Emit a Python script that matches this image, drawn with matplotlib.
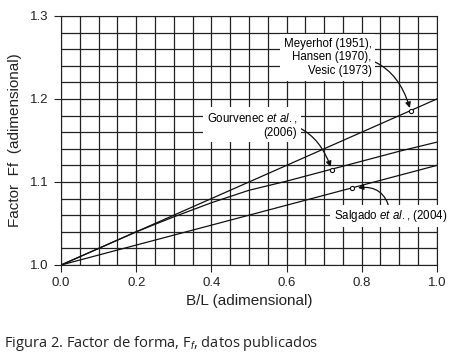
import numpy as np
import matplotlib
matplotlib.use("Agg")
import matplotlib.pyplot as plt

# datos
bl = [0.0, 0.1, 0.2, 0.3, 0.4, 0.5, 0.6, 0.7, 0.8, 0.9, 1.0]
meyerhof = [1.0, 1.02, 1.04, 1.06, 1.08, 1.10, 1.12, 1.14, 1.16, 1.18, 1.20]
gourvenec = [1.0, 1.02, 1.04, 1.058, 1.075, 1.09, 1.101, 1.113, 1.125, 1.137, 1.148]
salgado = [1.0, 1.012, 1.024, 1.036, 1.048, 1.06, 1.072, 1.084, 1.096, 1.108, 1.12]

# puntos marcados
pt_meyerhof = (0.93, 1.186)
pt_gourvenec = (0.72, 1.115)
pt_salgado = (0.775, 1.093)

plt.rcParams['font.family'] = ['Liberation Sans', 'DejaVu Sans']
plt.rcParams['mathtext.fontset'] = 'custom'
plt.rcParams['mathtext.rm'] = 'Liberation Sans'
plt.rcParams['mathtext.it'] = 'Liberation Sans:italic'

fig = plt.figure(figsize=(4.56, 3.63), dpi=100)
ax = fig.add_axes([0.134, 0.270, 0.824, 0.686])

ax.set_xlim(0, 1.0)
ax.set_ylim(1.0, 1.3)
ax.set_xticks(np.arange(0, 1.01, 0.2))
ax.set_yticks([1.0, 1.1, 1.2, 1.3])
ax.set_xticks(np.arange(0, 1.001, 0.05), minor=True)
ax.set_yticks(np.arange(1.0, 1.3001, 0.02), minor=True)
ax.tick_params(which='minor', length=0)
ax.tick_params(which='major', length=5, width=0.8, pad=4, labelsize=9.5, colors='#222222')
ax.set_xticklabels(['0.0', '0.2', '0.4', '0.6', '0.8', '1.0'])
ax.grid(True, which='both', color='#222222', linewidth=0.9)
for s in ax.spines.values():
    s.set_color('#222222')

lc = '#111111'
ax.plot(bl, meyerhof, color=lc, lw=0.9, zorder=3)
ax.plot(bl, gourvenec, color=lc, lw=0.9, zorder=3)
ax.plot(bl, salgado, color=lc, lw=0.9, zorder=3)
for p in (pt_meyerhof, pt_gourvenec, pt_salgado):
    ax.plot(*p, marker='o', ms=3, mfc='white', mec=lc, mew=0.8, zorder=4)

box = dict(boxstyle='square,pad=0.3', fc='white', ec='none')
arr = dict(arrowstyle='-|>', color=lc, lw=0.9, mutation_scale=8)

ax.annotate('Meyerhof (1951),\nHansen (1970),\nVesic (1973)',
            xy=pt_meyerhof, xytext=(0.827, 1.25), ha='right', va='center',
            fontsize=8.3, bbox=box, zorder=5,
            arrowprops=dict(arr, connectionstyle='arc3,rad=-0.45',
                            shrinkA=0, shrinkB=2))
ax.annotate('Gourvenec $\\mathit{et\\ al.}$,\n(2006)',
            xy=pt_gourvenec, xytext=(0.628, 1.169), ha='right', va='center',
            fontsize=8.3, bbox=box, zorder=5,
            arrowprops=dict(arr, connectionstyle='arc3,rad=-0.45',
                            shrinkA=0, shrinkB=2))
ax.annotate('', xy=(0.79, 1.093), xytext=(0.875, 1.066),
            arrowprops=dict(arr, connectionstyle='arc3,rad=0.45',
                            shrinkA=0, shrinkB=0), zorder=5)
ax.text(0.726, 1.059, 'Salgado $\\mathit{et\\ al.}$, (2004)', ha='left', va='center',
        fontsize=8.3, bbox=box, zorder=5)

ax.set_xlabel('B/L (adimensional)', fontsize=11, color='#222222', labelpad=3)
ax.set_ylabel('Factor  Ff  (adimensional)', fontsize=11, color='#222222', labelpad=6)

fig.text(0.009, 0.045, 'Figura 2. Factor de forma, F$_f$, datos publicados',
         fontsize=10.5, family=['Open Sans', 'DejaVu Sans'], color='#222222')

fig.savefig('out.png', dpi=100)
